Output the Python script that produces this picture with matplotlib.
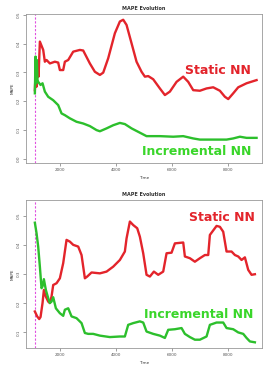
import matplotlib
matplotlib.use("Agg")
import matplotlib.pyplot as plt

# top panel
top_static_x = [1107, 1143, 1167, 1202, 1238, 1286, 1405, 1464, 1524, 1643, 1821, 1940,
                2000, 2119, 2179, 2298, 2476, 2714, 2833, 3071, 3250, 3429, 3548, 3726,
                3964, 4143, 4262, 4381, 4560, 4738, 4917, 5036, 5155, 5333, 5571, 5750,
                5929, 6167, 6405, 6583, 6762, 7000, 7238, 7476, 7714, 7893, 8012, 8190,
                8369, 8667, 9024]
top_static_y = [0.238, 0.32, 0.25, 0.33, 0.285, 0.407, 0.378, 0.337, 0.343, 0.331, 0.337, 0.334,
                0.308, 0.308, 0.337, 0.343, 0.372, 0.378, 0.376, 0.331, 0.302, 0.291, 0.299, 0.349,
                0.436, 0.477, 0.483, 0.465, 0.401, 0.337, 0.302, 0.285, 0.287, 0.276, 0.244, 0.221,
                0.233, 0.267, 0.285, 0.267, 0.238, 0.236, 0.244, 0.248, 0.236, 0.215, 0.207, 0.227,
                0.248, 0.262, 0.273]
top_incr_x = [1107, 1131, 1155, 1179, 1202, 1226, 1310, 1381, 1464, 1583, 1762, 1940,
              2060, 2179, 2357, 2595, 2833, 3071, 3310, 3429, 3667, 3905, 4143, 4321,
              4560, 4857, 5095, 5333, 5571, 6048, 6405, 6762, 7000, 7476, 7952, 8190,
              8429, 8667, 9024]
top_incr_y = [0.227, 0.355, 0.262, 0.343, 0.273, 0.267, 0.256, 0.262, 0.233, 0.215, 0.203, 0.186,
              0.157, 0.151, 0.140, 0.128, 0.122, 0.113, 0.099, 0.095, 0.105, 0.116, 0.124, 0.120,
              0.105, 0.090, 0.078, 0.078, 0.078, 0.076, 0.078, 0.070, 0.066, 0.066, 0.066, 0.070,
              0.076, 0.072, 0.072]

# bottom panel
bot_static_x = [1107, 1190, 1262, 1310, 1381, 1429, 1500, 1583, 1643, 1702, 1762, 1881,
                2000, 2119, 2238, 2357, 2476, 2655, 2774, 2893, 2976, 3131, 3429, 3667,
                3905, 4143, 4321, 4381, 4500, 4619, 4762, 4857, 4976, 5095, 5214, 5357,
                5512, 5690, 5810, 5988, 6107, 6405, 6464, 6643, 6821, 7000, 7179, 7298,
                7357, 7595, 7714, 7833, 7952, 8131, 8250, 8369, 8488, 8607, 8726, 8845,
                8964]
bot_static_y = [0.172, 0.155, 0.146, 0.153, 0.201, 0.246, 0.223, 0.206, 0.201, 0.223, 0.263, 0.269,
                0.286, 0.338, 0.418, 0.412, 0.401, 0.395, 0.366, 0.286, 0.292, 0.306, 0.303, 0.309,
                0.326, 0.349, 0.378, 0.423, 0.481, 0.469, 0.458, 0.429, 0.372, 0.298, 0.292, 0.309,
                0.298, 0.309, 0.372, 0.374, 0.406, 0.409, 0.361, 0.355, 0.343, 0.355, 0.366, 0.366,
                0.435, 0.466, 0.463, 0.446, 0.378, 0.378, 0.366, 0.361, 0.349, 0.358, 0.315, 0.298,
                0.300]
bot_incr_x = [1107, 1167, 1226, 1286, 1345, 1381, 1429, 1500, 1583, 1643, 1702, 1762,
              1857, 2000, 2119, 2179, 2298, 2417, 2595, 2774, 2893, 3012, 3190, 3429,
              3786, 4143, 4321, 4440, 4619, 4857, 4976, 5095, 5333, 5571, 5750, 5869,
              6107, 6345, 6464, 6643, 6821, 7000, 7238, 7357, 7595, 7833, 7952, 8190,
              8369, 8548, 8667, 8786, 8964]
bot_incr_y = [0.477, 0.441, 0.395, 0.326, 0.252, 0.258, 0.283, 0.246, 0.218, 0.201, 0.206, 0.221,
              0.183, 0.166, 0.157, 0.178, 0.183, 0.155, 0.149, 0.132, 0.098, 0.095, 0.095, 0.089,
              0.084, 0.086, 0.086, 0.126, 0.132, 0.138, 0.134, 0.103, 0.095, 0.089, 0.081, 0.109,
              0.111, 0.115, 0.095, 0.084, 0.075, 0.075, 0.086, 0.126, 0.134, 0.134, 0.115, 0.111,
              0.100, 0.095, 0.081, 0.069, 0.066]

x_ticks = [2000, 4000, 6000, 8000]
top_yticks = [0.0, 0.1, 0.2, 0.3, 0.4, 0.5]
bot_yticks = [0.1, 0.2, 0.3, 0.4, 0.5]
start_time = 1107

red = '#e3242b'
green = '#2cbf2c'
label_green = '#3ad62a'

fig = plt.figure(figsize=(2.64, 3.65), dpi=100)
ax1 = fig.add_axes([0.098, 0.553, 0.894, 0.409])
ax2 = fig.add_axes([0.098, 0.047, 0.894, 0.405])


def style(ax, yticks, ylim):
    ax.set_xlim(786, 9214)
    ax.set_ylim(*ylim)
    ax.set_xticks(x_ticks)
    ax.set_yticks(yticks)
    ax.set_yticklabels([str(v) for v in yticks], rotation=90, va='center')
    ax.tick_params(labelsize=3, length=2, width=0.4, pad=1.5, colors='#555555')
    for s in ax.spines.values():
        s.set_color('#999999')
        s.set_linewidth(0.6)
    ax.set_title('MAPE Evolution', fontsize=3.5, fontweight='bold', pad=3, color='#333333')
    ax.set_xlabel('Time', fontsize=3, labelpad=3, color='#333333')
    ax.set_ylabel('MAPE', fontsize=3, labelpad=2, color='#333333')
    ax.axvline(start_time, color='#e050e0', lw=0.8, ls=(0, (2, 1.5)))


style(ax1, top_yticks, (-0.016, 0.5035))
ax1.plot(top_static_x, top_static_y, color=red, lw=1.7)
ax1.plot(top_incr_x, top_incr_y, color=green, lw=1.7)
ax1.text(7655, 0.306, 'Static NN', color=red, fontsize=9, fontweight='bold',
         ha='center', va='center')
ax1.text(6881, 0.023, 'Incremental NN', color=label_green, fontsize=9, fontweight='bold',
         ha='center', va='center')

style(ax2, bot_yticks, (0.047, 0.555))
ax2.plot(bot_static_x, bot_static_y, color=red, lw=1.7)
ax2.plot(bot_incr_x, bot_incr_y, color=green, lw=1.7)
ax2.text(7774, 0.495, 'Static NN', color=red, fontsize=9, fontweight='bold',
         ha='center', va='center')
ax2.text(6940, 0.161, 'Incremental NN', color=label_green, fontsize=9, fontweight='bold',
         ha='center', va='center')

fig.savefig('out.png', dpi=100)
